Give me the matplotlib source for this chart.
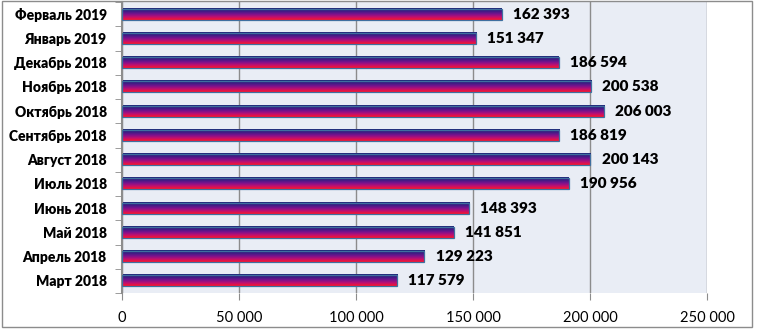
import matplotlib
matplotlib.use("Agg")
import matplotlib.pyplot as plt
import numpy as np
from matplotlib.colors import LinearSegmentedColormap
from matplotlib.ticker import FuncFormatter

months = ["Март 2018", "Апрель 2018", "Май 2018", "Июнь 2018", "Июль 2018",
          "Август 2018", "Сентябрь 2018", "Октябрь 2018", "Ноябрь 2018",
          "Декабрь 2018", "Январь 2019", "Ферваль 2019"]
values = [117579, 129223, 141851, 148393, 190956, 200143,
          186819, 206003, 200538, 186594, 151347, 162393]
xticks = [0, 50000, 100000, 150000, 200000, 250000]

plt.rcParams['font.family'] = ['Lato', 'DejaVu Sans']

fig = plt.figure(figsize=(7.58, 3.29), dpi=100)
ax = fig.add_axes([122 / 758, 36 / 329, 585 / 758, 291 / 329])
ax.set_facecolor("#e9edf5")

# bar outlines, gradient goes underneath
bars = ax.barh(range(len(months)), values, height=0.46,
               facecolor="none", edgecolor="#3f6f9f", linewidth=0.9, zorder=3)

grad_cmap = LinearSegmentedColormap.from_list(
    "bar", ["#1c2a78", "#3c1c84", "#7a128e", "#c01070", "#ff1428"])
grad = np.linspace(0, 1, 64).reshape(-1, 1)
for b in bars:
    x0, y0 = b.get_x(), b.get_y()
    ax.imshow(grad, cmap=grad_cmap, aspect="auto", zorder=2,
              extent=[x0, x0 + b.get_width(), y0, y0 + b.get_height()],
              origin="upper", interpolation="bilinear")

for b, v in zip(bars, values):
    ax.text(v + 4800, b.get_y() + b.get_height() / 2,
            f"{v:,}".replace(",", " "), va="center", ha="left",
            fontsize=11, fontweight=800, color="black", zorder=4)

ax.set_xlim(0, 250000)
ax.set_ylim(-0.5, len(months) - 0.5)
ax.set_xticks(xticks)
ax.xaxis.set_major_formatter(FuncFormatter(lambda v, p: f"{int(v):,}".replace(",", " ")))
ax.tick_params(axis="x", length=5, color="#8c8c8c", labelsize=10.5, pad=8)
ax.grid(axis="x", color="#8c8c8c", linewidth=1, zorder=1)
ax.set_axisbelow(True)

ax.set_yticks(range(len(months)))
ax.set_yticklabels(months, fontsize=10, fontweight=800)
ax.set_yticks(np.arange(-0.5, len(months)), minor=True)
ax.tick_params(axis="y", which="major", length=0, pad=11)
ax.tick_params(axis="y", which="minor", length=5, color="#8c8c8c")

for s in ["top", "right", "bottom"]:
    ax.spines[s].set_visible(False)
ax.spines["left"].set_color("#8c8c8c")
ax.spines["left"].set_linewidth(1.5)

# outer frame of the picture
fig.patches.append(plt.Rectangle((0.002, 0.006), 0.99, 0.99, transform=fig.transFigure,
                                 fill=False, edgecolor="#8c8c8c", linewidth=1))

fig.savefig("out.png", dpi=100)
